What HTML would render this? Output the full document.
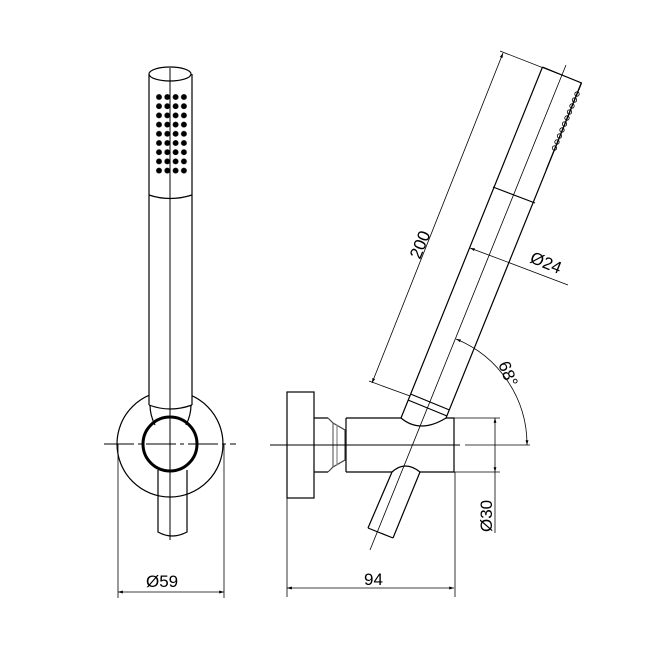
<!DOCTYPE html>
<html><head><style>body{margin:0;background:#fff}svg{display:block}</style></head><body>
<svg width="650" height="650" viewBox="0 0 650 650" xmlns="http://www.w3.org/2000/svg" font-family="Liberation Sans, sans-serif">
<defs>
<marker id="a" viewBox="0 0 10 10" refX="10" refY="5" markerWidth="9" markerHeight="6" orient="auto-start-reverse"><path d="M0,2L10,5L0,8z" fill="#000"/></marker>
<pattern id="dots" x="155" y="93" width="8.3" height="9.2" patternUnits="userSpaceOnUse"><circle cx="4" cy="4" r="2.9" fill="#000"/></pattern>
</defs>
<g fill="none" stroke="#000" stroke-width="1.2">
<!-- LEFT VIEW -->
<circle cx="170" cy="444" r="53"/>
<rect x="149" y="380" width="43" height="30" fill="#fff" stroke="none"/>
<line x1="149" y1="74" x2="149" y2="405"/>
<line x1="192" y1="74" x2="192" y2="405"/>
<ellipse cx="170" cy="74" rx="21" ry="7"/>
<path d="M149,195 Q170,202 192,195"/>
<path d="M149,405 Q170,413 192,405"/>
<path d="M150,405 Q150,415 155,425 M191,405 Q191,415 186,425"/>
<circle cx="170" cy="444" r="27" stroke-width="3"/>
<path d="M158,470 L158,532 Q172,540 187,532 L187,470"/>
<line x1="170" y1="68" x2="170" y2="540" stroke-width="1"/>
<line x1="104" y1="444" x2="236" y2="444" stroke-dasharray="30,4,4,4" stroke-width="1"/>
<line x1="118" y1="444" x2="118" y2="598" stroke-width="0.8"/>
<line x1="224" y1="444" x2="224" y2="598" stroke-width="0.8"/>
<line x1="118" y1="592" x2="224" y2="592" stroke-width="0.8" marker-start="url(#a)" marker-end="url(#a)"/>
<!-- RIGHT VIEW -->
<rect x="287" y="392" width="27" height="106"/>
<path d="M314,418 H328 M314,472 H328"/>
<path d="M328,418 L333,423 L345,430 L345,460 L333,467 L328,472" stroke="#444"/>
<line x1="333" y1="423" x2="333" y2="467" stroke="#666"/>
<line x1="337" y1="425" x2="337" y2="465" stroke="#888"/>
<line x1="346" y1="418" x2="346" y2="472"/>
<path d="M346,418 H401 M446,418 H454 V472 H420 M392,472 H346"/>
<line x1="454" y1="418" x2="500" y2="418" stroke-width="0.8"/>
<line x1="454" y1="472" x2="500" y2="472" stroke-width="0.8"/>
<line x1="455" y1="472" x2="455" y2="597" stroke-width="0.8"/>
<line x1="287" y1="498" x2="287" y2="597" stroke-width="0.8"/>
<line x1="287" y1="588" x2="454" y2="588" stroke-width="0.8" marker-start="url(#a)" marker-end="url(#a)"/>
<line x1="270" y1="445" x2="460" y2="445" stroke-width="1"/>
<line x1="465" y1="445" x2="530" y2="445" stroke-width="0.8"/>
<line x1="495" y1="418" x2="495" y2="472" stroke-width="0.8" marker-start="url(#a)" marker-end="url(#a)"/>
<line x1="495" y1="472" x2="495" y2="533" stroke-width="0.8"/>
<!-- angled handle -->
<path d="M542.5,67 L401,418 M581.5,83 L446,418 M542.5,67 L581.5,83"/>
<path d="M401,418 Q420,434 446,418"/>
<path d="M410.5,394 L449.5,410 M408,400 L447,416"/>
<path d="M493,187 L535,203"/>
<path d="M392,472 Q405,460 420,472 M392,472 L368,528 M420,472 L393,538 M368,528 L393,538"/>
<line x1="566" y1="65" x2="370" y2="550" stroke-width="0.8"/>
<line x1="581" y1="83" x2="546" y2="170" stroke-width="0.8"/>
<g stroke-width="0.8">
<circle cx="577" cy="94" r="2.2"/><circle cx="574.5" cy="100" r="2.2"/><circle cx="572" cy="106" r="2.2"/><circle cx="569.5" cy="112" r="2.2"/><circle cx="567" cy="118" r="2.2"/><circle cx="564.5" cy="124" r="2.2"/><circle cx="562" cy="130" r="2.2"/><circle cx="559.5" cy="136" r="2.2"/><circle cx="557" cy="142" r="2.2"/><circle cx="554.5" cy="148" r="2.2"/>
</g>
<!-- 200 dim -->
<line x1="503" y1="53" x2="372" y2="383" stroke-width="0.8" marker-start="url(#a)" marker-end="url(#a)"/>
<line x1="500" y1="51" x2="582" y2="83" stroke-width="0.8"/>
<line x1="369" y1="381" x2="410" y2="396" stroke-width="0.8"/>
<!-- Ø24 dim -->
<line x1="470" y1="248" x2="510" y2="263" stroke-width="0.8" marker-start="url(#a)"/>
<line x1="510" y1="263" x2="568" y2="285" stroke-width="0.8"/>
<!-- 68 arc -->
<path d="M456,339 A114,114 0 0 1 527,445" stroke-width="0.8" marker-start="url(#a)" marker-end="url(#a)"/>
</g>
<rect x="155" y="93" width="33" height="83" fill="url(#dots)"/>
<g font-size="17" fill="#000">
<text x="146" y="587">Ø59</text>
<text x="364" y="585">94</text>
<text transform="translate(492,532) rotate(-90)">Ø30</text>
<text transform="translate(420,260) rotate(-68)">200</text>
<text transform="translate(529,262) rotate(22)">Ø24</text>
<text transform="translate(498,364) rotate(68)">68°</text>
</g>
</svg>
</body></html>
